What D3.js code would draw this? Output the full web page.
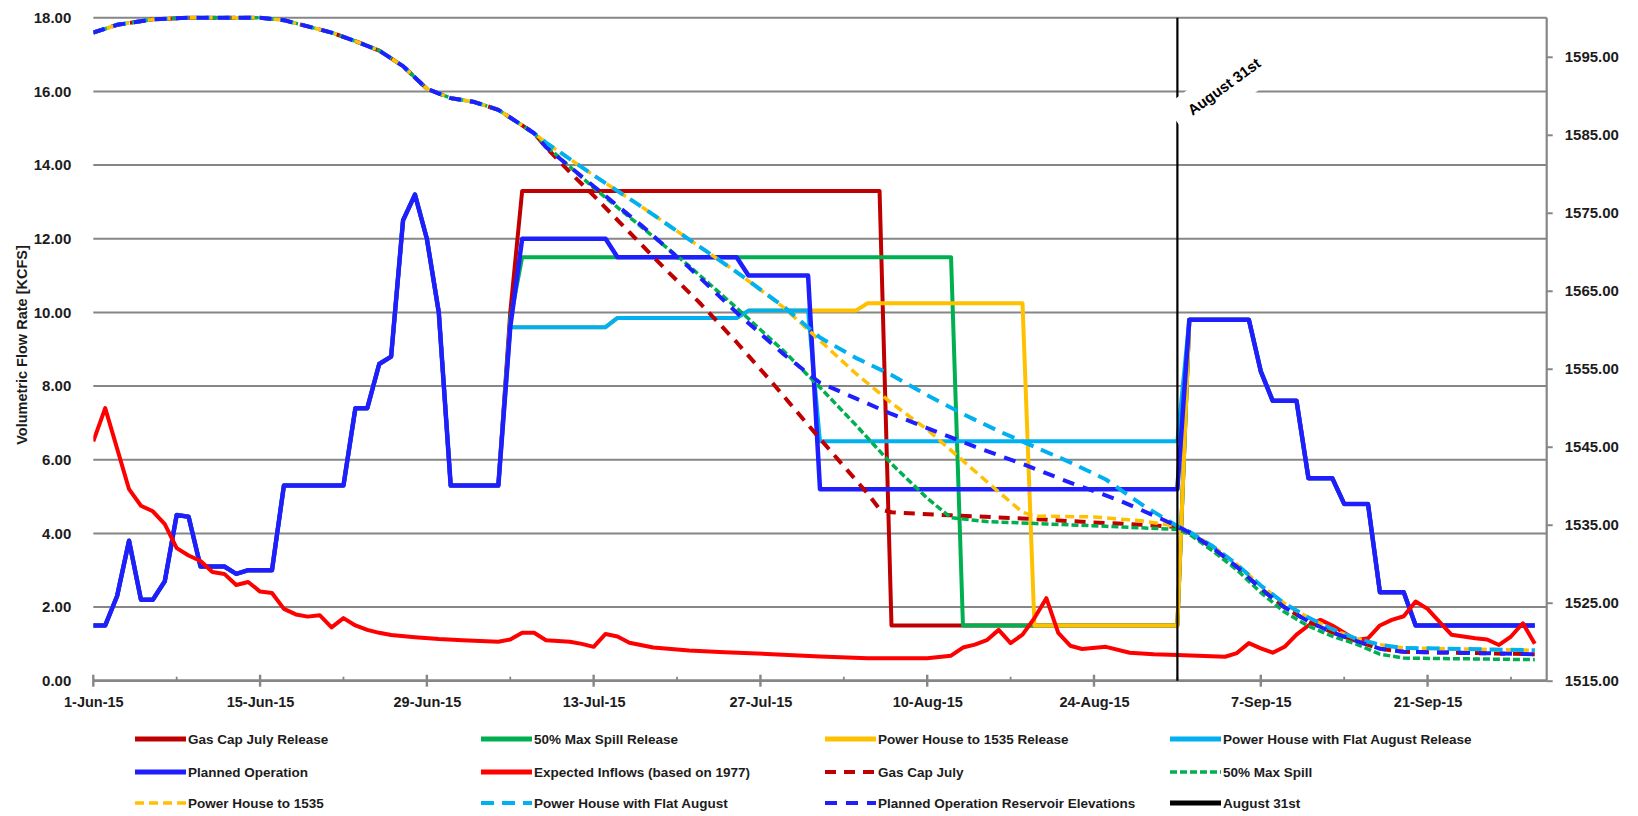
<!DOCTYPE html>
<html>
<head>
<meta charset="utf-8">
<script src="https://cdn.jsdelivr.net/npm/d3@7"></script>
<style>
  body { margin: 0; background: #fff; }
  svg text { font-family: "Liberation Sans", Arial, sans-serif; font-weight: bold; fill: #1c1c1c; }
</style>
</head>
<body>
<div id="chart"></div>
<script>
// ---- values (all dates are 2015) ----
const tickLabels = ["1-Jun-15", "15-Jun-15", "29-Jun-15", "13-Jul-15", "27-Jul-15", "10-Aug-15", "24-Aug-15", "7-Sep-15", "21-Sep-15"];
const minorTickLabels = ["8-Jun-15", "22-Jun-15", "6-Jul-15", "20-Jul-15", "3-Aug-15", "17-Aug-15", "31-Aug-15", "14-Sep-15", "28-Sep-15"];
const flowTicks = [0, 2, 4, 6, 8, 10, 12, 14, 16, 18];
const elevTicks = [1515, 1525, 1535, 1545, 1555, 1565, 1575, 1585, 1595];

// releases: every scenario follows the plan in June and September
const releaseJune = [["1-Jun", 1.5], ["2-Jun", 1.5], ["3-Jun", 2.3], ["4-Jun", 3.8], ["5-Jun", 2.2], ["6-Jun", 2.2],
  ["7-Jun", 2.7], ["8-Jun", 4.5], ["9-Jun", 4.45], ["10-Jun", 3.1], ["12-Jun", 3.1], ["13-Jun", 2.9], ["14-Jun", 3.0],
  ["16-Jun", 3.0], ["17-Jun", 5.3], ["22-Jun", 5.3], ["23-Jun", 7.4], ["24-Jun", 7.4], ["25-Jun", 8.6], ["26-Jun", 8.8],
  ["27-Jun", 12.5], ["28-Jun", 13.2], ["29-Jun", 12.0], ["30-Jun", 10.0], ["1-Jul", 5.3], ["5-Jul", 5.3]];
const releaseSept = [["1-Sep", 9.8], ["6-Sep", 9.8], ["7-Sep", 8.4], ["8-Sep", 7.6], ["10-Sep", 7.6], ["11-Sep", 5.5],
  ["13-Sep", 5.5], ["14-Sep", 4.8], ["16-Sep", 4.8], ["17-Sep", 2.4], ["19-Sep", 2.4], ["20-Sep", 1.5], ["30-Sep", 1.5]];

const gasCapRelease = [["6-Jul", 10.0], ["7-Jul", 13.3], ["6-Aug", 13.3], ["7-Aug", 1.5], ["31-Aug", 1.5]];
const maxSpillRelease = [["6-Jul", 9.8], ["7-Jul", 11.5], ["12-Aug", 11.5], ["13-Aug", 1.5], ["31-Aug", 1.5]];
const ph1535Release = [["6-Jul", 9.6], ["14-Jul", 9.6], ["15-Jul", 9.85], ["25-Jul", 9.85], ["26-Jul", 10.05],
  ["4-Aug", 10.05], ["5-Aug", 10.25], ["18-Aug", 10.25], ["19-Aug", 1.5], ["31-Aug", 1.5]];
const phFlatRelease = [["6-Jul", 9.6], ["14-Jul", 9.6], ["15-Jul", 9.85], ["25-Jul", 9.85], ["26-Jul", 10.05],
  ["31-Jul", 10.05], ["1-Aug", 6.5], ["31-Aug", 6.5]];
const plannedRelease = [["6-Jul", 9.6], ["7-Jul", 12.0], ["14-Jul", 12.0], ["15-Jul", 11.5], ["25-Jul", 11.5],
  ["26-Jul", 11.0], ["31-Jul", 11.0], ["1-Aug", 5.2], ["31-Aug", 5.2]];

const inflows = [["1-Jun", 6.5], ["2-Jun", 7.4], ["3-Jun", 6.3], ["4-Jun", 5.2], ["5-Jun", 4.75], ["6-Jun", 4.6],
  ["7-Jun", 4.25], ["8-Jun", 3.6], ["9-Jun", 3.4], ["10-Jun", 3.25], ["11-Jun", 2.95], ["12-Jun", 2.9], ["13-Jun", 2.6],
  ["14-Jun", 2.68], ["15-Jun", 2.42], ["16-Jun", 2.38], ["17-Jun", 1.95], ["18-Jun", 1.8], ["19-Jun", 1.74],
  ["20-Jun", 1.78], ["21-Jun", 1.45], ["22-Jun", 1.7], ["23-Jun", 1.5], ["24-Jun", 1.38], ["25-Jun", 1.3],
  ["26-Jun", 1.24], ["28-Jun", 1.18], ["30-Jun", 1.13], ["2-Jul", 1.1], ["5-Jul", 1.06], ["6-Jul", 1.12],
  ["7-Jul", 1.3], ["8-Jul", 1.3], ["9-Jul", 1.1], ["11-Jul", 1.06], ["12-Jul", 1.0], ["13-Jul", 0.92], ["14-Jul", 1.27],
  ["15-Jul", 1.2], ["16-Jul", 1.03], ["18-Jul", 0.9], ["21-Jul", 0.82], ["24-Jul", 0.77], ["28-Jul", 0.72],
  ["1-Aug", 0.66], ["5-Aug", 0.61], ["10-Aug", 0.61], ["12-Aug", 0.68], ["13-Aug", 0.9], ["14-Aug", 0.98],
  ["15-Aug", 1.1], ["16-Aug", 1.38], ["17-Aug", 1.02], ["18-Aug", 1.25], ["19-Aug", 1.7], ["20-Aug", 2.24],
  ["21-Aug", 1.3], ["22-Aug", 0.95], ["23-Aug", 0.86], ["25-Aug", 0.92], ["27-Aug", 0.76], ["29-Aug", 0.72],
  ["31-Aug", 0.7], ["4-Sep", 0.65], ["5-Sep", 0.75], ["6-Sep", 1.02], ["7-Sep", 0.88], ["8-Sep", 0.76],
  ["9-Sep", 0.92], ["10-Sep", 1.25], ["11-Sep", 1.5], ["12-Sep", 1.65], ["13-Sep", 1.5], ["14-Sep", 1.3],
  ["15-Sep", 1.1], ["16-Sep", 1.15], ["17-Sep", 1.5], ["18-Sep", 1.65], ["19-Sep", 1.75], ["20-Sep", 2.15],
  ["21-Sep", 1.95], ["22-Sep", 1.6], ["23-Sep", 1.25], ["24-Sep", 1.2], ["25-Sep", 1.15], ["26-Sep", 1.12],
  ["27-Sep", 0.97], ["28-Sep", 1.2], ["29-Sep", 1.56], ["30-Sep", 1.0]];

// reservoir elevations (right axis)
const elevJune = [["1-Jun", 1598.1], ["3-Jun", 1599.1], ["6-Jun", 1599.8], ["9-Jun", 1600], ["15-Jun", 1600],
  ["17-Jun", 1599.7], ["19-Jun", 1598.9], ["21-Jun", 1598.1], ["23-Jun", 1597.0], ["25-Jun", 1595.8],
  ["27-Jun", 1593.8], ["29-Jun", 1590.9], ["1-Jul", 1589.7], ["3-Jul", 1589.2], ["5-Jul", 1588.2],
  ["7-Jul", 1586.2], ["8-Jul", 1585.2]];
const gasCapElev = [["9-Jul", 1583.4], ["11-Jul", 1580.2], ["13-Jul", 1577.2], ["16-Jul", 1572.5], ["19-Jul", 1567.8],
  ["22-Jul", 1563.3], ["25-Jul", 1558.4], ["28-Jul", 1553.2], ["31-Jul", 1547.8], ["3-Aug", 1542.5],
  ["5-Aug", 1539.0], ["6-Aug", 1537.0], ["7-Aug", 1536.6], ["12-Aug", 1536.2], ["18-Aug", 1535.8],
  ["24-Aug", 1535.3], ["28-Aug", 1535.0], ["31-Aug", 1534.7]];
const maxSpillElev = [["9-Jul", 1583.6], ["13-Jul", 1578.2], ["17-Jul", 1573.2], ["21-Jul", 1568.2], ["25-Jul", 1562.8],
  ["29-Jul", 1557.2], ["1-Aug", 1552.6], ["4-Aug", 1547.8], ["7-Aug", 1542.8], ["10-Aug", 1538.4],
  ["12-Aug", 1535.9], ["15-Aug", 1535.4], ["20-Aug", 1535.1], ["25-Aug", 1534.8], ["31-Aug", 1534.4]];
const ph1535Elev = [["9-Jul", 1584.0], ["13-Jul", 1579.8], ["17-Jul", 1575.8], ["21-Jul", 1571.6], ["25-Jul", 1567.4],
  ["29-Jul", 1562.8], ["1-Aug", 1558.6], ["4-Aug", 1554.4], ["7-Aug", 1550.6], ["10-Aug", 1547.2],
  ["13-Aug", 1543.2], ["16-Aug", 1539.2], ["18-Aug", 1536.6], ["19-Aug", 1536.1], ["24-Aug", 1536.0],
  ["28-Aug", 1535.5], ["31-Aug", 1534.8]];
const phFlatElev = [["9-Jul", 1584.0], ["13-Jul", 1579.8], ["17-Jul", 1575.8], ["21-Jul", 1571.6], ["25-Jul", 1567.4],
  ["29-Jul", 1562.9], ["1-Aug", 1559.0], ["4-Aug", 1556.4], ["7-Aug", 1554.2], ["10-Aug", 1551.6],
  ["13-Aug", 1549.2], ["16-Aug", 1547.0], ["19-Aug", 1545.0], ["22-Aug", 1543.0], ["25-Aug", 1540.8],
  ["28-Aug", 1537.6], ["31-Aug", 1534.8]];
const plannedElev = [["9-Jul", 1583.4], ["13-Jul", 1578.4], ["17-Jul", 1573.4], ["21-Jul", 1568.0], ["25-Jul", 1562.2],
  ["29-Jul", 1556.8], ["1-Aug", 1553.2], ["4-Aug", 1551.2], ["7-Aug", 1549.2], ["10-Aug", 1547.4],
  ["14-Aug", 1545.0], ["18-Aug", 1542.8], ["22-Aug", 1540.4], ["26-Aug", 1538.2], ["29-Aug", 1536.2],
  ["31-Aug", 1534.8]];
const elevSeptMid = [["1-Sep", 1534.0], ["3-Sep", 1532.0], ["5-Sep", 1529.6], ["7-Sep", 1526.8], ["9-Sep", 1524.4],
  ["11-Sep", 1522.6], ["13-Sep", 1521.2], ["15-Sep", 1520.1], ["17-Sep", 1519.1], ["19-Sep", 1518.7],
  ["23-Sep", 1518.6], ["30-Sep", 1518.4]];
const elevSeptLow = [["1-Sep", 1533.8], ["3-Sep", 1531.6], ["5-Sep", 1529.2], ["7-Sep", 1526.3], ["9-Sep", 1523.8],
  ["11-Sep", 1522.0], ["13-Sep", 1520.7], ["15-Sep", 1519.7], ["17-Sep", 1518.4], ["19-Sep", 1517.9],
  ["30-Sep", 1517.7]];
const elevSeptHigh = [["1-Sep", 1534.1], ["3-Sep", 1532.2], ["5-Sep", 1529.9], ["7-Sep", 1527.2], ["9-Sep", 1524.9],
  ["11-Sep", 1523.1], ["13-Sep", 1521.6], ["15-Sep", 1520.4], ["17-Sep", 1519.6], ["19-Sep", 1519.2],
  ["30-Sep", 1518.9]];
const august31 = "31-Aug";

// ---- layout ----
const W = 1638, H = 816;
const plot = { left: 93.3, right: 1546.7, top: 17.8, bottom: 680.7 };
const gridColor = "#868686";

const parseDay = s => d3.utcParse("%d-%b-%Y")(s + "-2015");
const parseTick = d3.utcParse("%d-%b-%y");
const rows = arr => arr.map(d => ({ date: parseDay(d[0]), v: d[1] }));

const svg = d3.select("#chart").append("svg")
  .attr("width", W).attr("height", H)
  .style("background", "#fff");

const x = d3.scaleUtc()
  .domain([parseDay("1-Jun"), parseDay("1-Oct")])
  .range([plot.left, plot.right]);
const yFlow = d3.scaleLinear().domain([0, 18]).range([plot.bottom, plot.top]);
const yElev = d3.scaleLinear().domain([1515, 1600]).range([plot.bottom, plot.top]);

// horizontal gridlines
svg.append("g").selectAll("line")
  .data(flowTicks.filter(d => d > 0))
  .join("line")
  .attr("x1", plot.left).attr("x2", plot.right)
  .attr("y1", d => yFlow(d)).attr("y2", d => yFlow(d))
  .attr("stroke", gridColor).attr("stroke-width", 2);

// left axis labels
const leftAxis = svg.append("g")
  .attr("transform", `translate(${plot.left},0)`)
  .call(d3.axisLeft(yFlow).tickValues(flowTicks).tickFormat(d3.format(".2f")).tickSize(0).tickPadding(22));
leftAxis.select(".domain").remove();
leftAxis.selectAll("text").style("font-size", "15px");

// right axis
const rightAxis = svg.append("g")
  .attr("transform", `translate(${plot.right},0)`)
  .call(d3.axisRight(yElev).tickValues(elevTicks).tickFormat(d3.format(".2f")).tickSize(6).tickPadding(12));
rightAxis.select(".domain").attr("stroke", gridColor).attr("stroke-width", 2.2).attr("d", `M0,${plot.top}V${plot.bottom}`);
rightAxis.selectAll(".tick line").attr("stroke", gridColor).attr("stroke-width", 2);
rightAxis.selectAll("text").style("font-size", "15px");

// bottom axis: line, major and minor ticks, labels
const majorDates = tickLabels.map(parseTick);
const minorDates = minorTickLabels.map(parseTick);
svg.append("line")
  .attr("x1", plot.left).attr("x2", plot.right)
  .attr("y1", plot.bottom).attr("y2", plot.bottom)
  .attr("stroke", gridColor).attr("stroke-width", 2.8);
svg.append("g").selectAll("line")
  .data(majorDates)
  .join("line")
  .attr("x1", d => x(d)).attr("x2", d => x(d))
  .attr("y1", plot.bottom - 6).attr("y2", plot.bottom + 6)
  .attr("stroke", gridColor).attr("stroke-width", 2.4);
svg.append("g").selectAll("line")
  .data(minorDates)
  .join("line")
  .attr("x1", d => x(d)).attr("x2", d => x(d))
  .attr("y1", plot.bottom - 4).attr("y2", plot.bottom)
  .attr("stroke", gridColor).attr("stroke-width", 1.8);
const bottomAxis = svg.append("g")
  .attr("transform", `translate(0,${plot.bottom})`)
  .call(d3.axisBottom(x).tickValues(majorDates).tickFormat(d3.utcFormat("%-d-%b-%y")).tickSize(0).tickPadding(16));
bottomAxis.select(".domain").remove();
bottomAxis.selectAll("text").style("font-size", "14.5px");

// y axis title
svg.append("text")
  .attr("transform", `translate(22,345) rotate(-90)`)
  .attr("text-anchor", "middle")
  .attr("dy", "0.35em")
  .style("font-size", "14.5px")
  .text("Volumetric Flow Rate [KCFS]");

// ---- series ----
const series = [
  { name: "Gas Cap July Release", color: "#C00000", width: 4, dash: null, axis: yFlow,
    data: rows(releaseJune.concat(gasCapRelease, releaseSept)) },
  { name: "50% Max Spill Release", color: "#00B050", width: 4, dash: null, axis: yFlow,
    data: rows(releaseJune.concat(maxSpillRelease, releaseSept)) },
  { name: "Power House to 1535 Release", color: "#FFC000", width: 4, dash: null, axis: yFlow,
    data: rows(releaseJune.concat(ph1535Release, releaseSept)) },
  { name: "Power House with Flat August Release", color: "#00B0F0", width: 4, dash: null, axis: yFlow,
    data: rows(releaseJune.concat(phFlatRelease, releaseSept)) },
  { name: "Planned Operation", color: "#1E1EFF", width: 4.5, dash: null, axis: yFlow,
    data: rows(releaseJune.concat(plannedRelease, releaseSept)) },
  { name: "Expected Inflows (based on 1977)", color: "#FF0000", width: 4, dash: null, axis: yFlow,
    data: rows(inflows) },
  { name: "Gas Cap July", color: "#C00000", width: 4, dash: "11,8", axis: yElev,
    data: rows(elevJune.concat(gasCapElev, elevSeptMid)) },
  { name: "50% Max Spill", color: "#00B050", width: 3.5, dash: "7,3", axis: yElev,
    data: rows(elevJune.concat(maxSpillElev, elevSeptLow)) },
  { name: "Power House to 1535", color: "#FFC000", width: 3.5, dash: "9,5", axis: yElev,
    data: rows(elevJune.concat(ph1535Elev, elevSeptHigh)) },
  { name: "Power House with Flat August", color: "#00B0F0", width: 4, dash: "13,8", axis: yElev,
    data: rows(elevJune.concat(phFlatElev, elevSeptHigh)) },
  { name: "Planned Operation Reservoir Elevations", color: "#1E1EFF", width: 4, dash: "12,9", axis: yElev,
    data: rows(elevJune.concat(plannedElev, elevSeptMid)) }
];

svg.append("defs").append("clipPath").attr("id", "plotClip")
  .append("rect")
  .attr("x", plot.left).attr("y", plot.top - 3)
  .attr("width", plot.right - plot.left).attr("height", plot.bottom - plot.top + 3);

const lines = svg.append("g").attr("clip-path", "url(#plotClip)");
series.forEach(s => {
  const line = d3.line().x(d => x(d.date)).y(d => s.axis(d.v));
  lines.append("path")
    .datum(s.data)
    .attr("d", line)
    .attr("fill", "none")
    .attr("stroke", s.color)
    .attr("stroke-width", s.width)
    .attr("stroke-linejoin", "round")
    .attr("stroke-dasharray", s.dash);
});

// August 31st marker line with its rotated label box
const xAug = x(parseDay(august31));
svg.append("line")
  .attr("x1", xAug).attr("x2", xAug)
  .attr("y1", yFlow(0)).attr("y2", yFlow(18))
  .attr("stroke", "#000").attr("stroke-width", 2.2);
const label = svg.append("g").attr("transform", `translate(${xAug - 12},106) rotate(-36)`);
label.append("rect").attr("x", 0).attr("y", 0).attr("width", 122).attr("height", 42).attr("fill", "#fff");
label.append("text").attr("x", 16).attr("y", 24).style("font-size", "15px").style("fill", "#000").text("August 31st");

// ---- legend ----
const legendCols = [135, 481, 825, 1170];
const legendRows = [739, 772, 803];
const legendItems = series.concat([{ name: "August 31st", color: "#000", width: 4, dash: null }]);
const legend = svg.append("g");
legendItems.forEach((s, i) => {
  const lx = legendCols[i % 4], ly = legendRows[Math.floor(i / 4)];
  legend.append("line")
    .attr("x1", lx).attr("x2", lx + 51)
    .attr("y1", ly).attr("y2", ly)
    .attr("stroke", s.color)
    .attr("stroke-width", s.dash ? Math.min(s.width, 4) : 5)
    .attr("stroke-dasharray", s.dash);
  legend.append("text")
    .attr("x", lx + 53).attr("y", ly)
    .attr("dy", "0.35em")
    .style("font-size", "13.5px")
    .text(s.name);
});
</script>
</body>
</html>
